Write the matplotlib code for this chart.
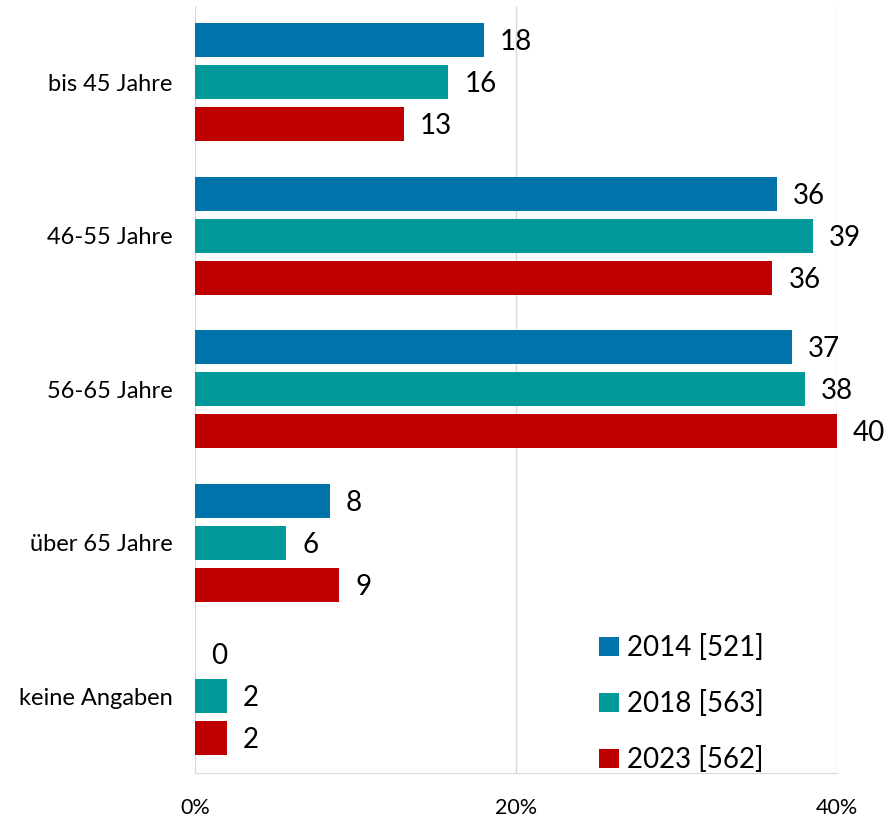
import matplotlib.pyplot as plt
import numpy as np

plt.rcParams['font.family'] = ['Lato', 'DejaVu Sans']

categories = ["bis 45 Jahre", "46-55 Jahre", "56-65 Jahre", "über 65 Jahre", "keine Angaben"]
series_names = ["2014 [521]", "2018 [563]", "2023 [562]"]
values_2014 = [18.0, 36.3, 37.2, 8.4, 0.0]
values_2018 = [15.8, 38.5, 38.0, 5.7, 2.0]
values_2023 = [13.0, 36.0, 40.0, 9.0, 2.0]
labels_2014 = [18, 36, 37, 8, 0]
labels_2018 = [16, 39, 38, 6, 2]
labels_2023 = [13, 36, 40, 9, 2]
xticks = [0, 20, 40]
xtick_labels = ["0%", "20%", "40%"]

colors = ["#0073AB", "#009999", "#C00000"]
series_vals = [values_2014, values_2018, values_2023]
series_labels = [labels_2014, labels_2018, labels_2023]

fig = plt.figure(figsize=(8.86, 8.21), dpi=100)
ax = fig.add_axes([0.2201, 0.0585, 0.7242, 0.9348])

y = np.arange(len(categories))
offsets = [-0.274, 0.0, 0.274]
h = 0.222
handles = []
for vals, labs, col, off, name in zip(series_vals, series_labels, colors, offsets, series_names):
    b = ax.barh(y + off, vals, height=h, color=col, label=name, zorder=3)
    handles.append(b)
    for yi, v, l in zip(y + off, vals, labs):
        ax.annotate(str(l), xy=(v, yi), xytext=(11.5, -1.5), textcoords='offset points',
                    ha='left', va='center', fontsize=20, color='black')

ax.set_xlim(0, 40)
ax.set_ylim(4.5, -0.5)
ax.set_yticks(y)
ax.set_yticklabels(categories, fontsize=17)
ax.set_xticks(xticks)
ax.set_xticklabels(xtick_labels, fontsize=15.5)
ax.tick_params(axis='both', length=0)
ax.tick_params(axis='y', pad=16)
ax.tick_params(axis='x', pad=18)
ax.grid(axis='x', color='#D9D9D9', linewidth=1, zorder=0)
for s in ['top', 'right', 'left']:
    ax.spines[s].set_visible(False)
ax.spines['bottom'].set_color('#D9D9D9')

leg = ax.legend(handles=handles, loc='lower left', bbox_to_anchor=(0.6, -0.026),
                frameon=False, fontsize=20, handlelength=0.7, handleheight=0.7,
                handletextpad=0.3, labelspacing=1.05, borderaxespad=0.3)

fig.savefig("out.png", dpi=100, facecolor='white')
